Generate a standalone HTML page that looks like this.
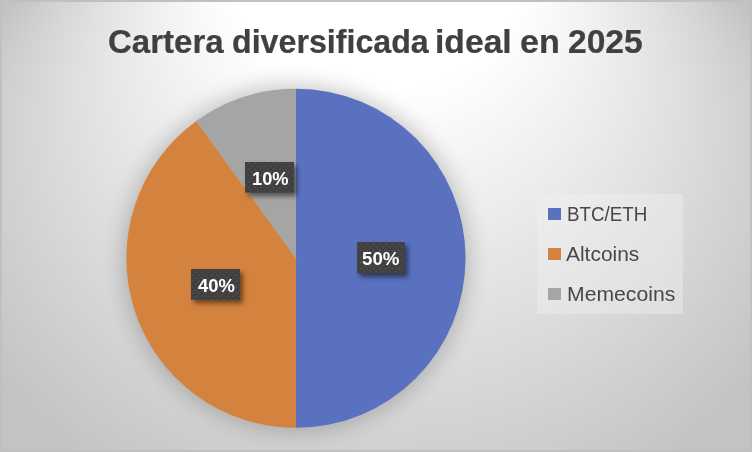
<!DOCTYPE html>
<html>
<head>
<meta charset="utf-8">
<title>Cartera diversificada ideal en 2025</title>
<style>
  html, body { margin: 0; padding: 0; }
  body {
    width: 752px; height: 452px; overflow: hidden; position: relative;
    font-family: "Liberation Sans", sans-serif;
    background: #c3c3c3;
  }
  svg { position: absolute; left: 0; top: 0; display: block; }
  #frame {
    position: absolute; left: 0; top: 0; width: 752px; height: 452px; box-sizing: border-box;
    border: 2px solid #c0c0c0;
  }
  .w { position: absolute; white-space: pre; color: #404040; font-weight: bold; font-size: 32.5px; line-height: 1; transform-origin: 0 0; -webkit-text-stroke: 0.22px #404040; }
  #legend { position: absolute; left: 537px; top: 194px; width: 145.8px; height: 119.7px; background: rgba(242,242,242,0.39); }
  .mk { position: absolute; left: 548px; width: 13px; height: 12.2px; }
  .lt { position: absolute; white-space: pre; color: #484848; font-size: 19.5px; line-height: 1; transform-origin: 0 0; }
  .lb { position: absolute; color: #fff; font-weight: bold; font-size: 19px; line-height: 1; white-space: pre; transform-origin: 0 0; }
</style>
</head>
<body>
<svg id="bg" width="752" height="452" viewBox="0 0 752 452">
<rect width="752" height="452" fill="#c3c3c3"/>
<ellipse cx="376.0" cy="199.2" rx="436.8" ry="351.2" fill="#c4c4c4"/>
<ellipse cx="376.0" cy="195.4" rx="431.9" ry="347.3" fill="#c5c5c5"/>
<ellipse cx="376.0" cy="191.6" rx="427.0" ry="343.4" fill="#c6c6c6"/>
<ellipse cx="376.0" cy="187.8" rx="422.1" ry="339.4" fill="#c7c7c7"/>
<ellipse cx="376.0" cy="183.9" rx="417.2" ry="335.5" fill="#c8c8c8"/>
<ellipse cx="376.0" cy="180.1" rx="412.3" ry="331.6" fill="#c9c9c9"/>
<ellipse cx="376.0" cy="176.3" rx="407.4" ry="327.6" fill="#cacaca"/>
<ellipse cx="376.0" cy="172.5" rx="402.5" ry="323.7" fill="#cbcbcb"/>
<ellipse cx="376.0" cy="168.7" rx="397.6" ry="319.8" fill="#cccccc"/>
<ellipse cx="376.0" cy="164.9" rx="392.7" ry="315.8" fill="#cdcdcd"/>
<ellipse cx="376.0" cy="161.1" rx="387.9" ry="311.9" fill="#cecece"/>
<ellipse cx="376.0" cy="157.2" rx="383.0" ry="308.0" fill="#cfcfcf"/>
<ellipse cx="376.0" cy="153.4" rx="378.1" ry="304.0" fill="#d0d0d0"/>
<ellipse cx="376.0" cy="149.6" rx="373.2" ry="300.1" fill="#d1d1d1"/>
<ellipse cx="376.0" cy="145.8" rx="368.3" ry="296.2" fill="#d2d2d2"/>
<ellipse cx="376.0" cy="142.0" rx="363.4" ry="292.2" fill="#d3d3d3"/>
<ellipse cx="376.0" cy="138.2" rx="358.5" ry="288.3" fill="#d4d4d4"/>
<ellipse cx="376.0" cy="134.4" rx="353.6" ry="284.4" fill="#d5d5d5"/>
<ellipse cx="376.0" cy="130.5" rx="348.7" ry="280.5" fill="#d6d6d6"/>
<ellipse cx="376.0" cy="126.7" rx="343.8" ry="276.5" fill="#d7d7d7"/>
<ellipse cx="376.0" cy="122.9" rx="339.0" ry="272.6" fill="#d8d8d8"/>
<ellipse cx="376.0" cy="119.1" rx="334.1" ry="268.7" fill="#d9d9d9"/>
<ellipse cx="376.0" cy="115.3" rx="329.2" ry="264.7" fill="#dadada"/>
<ellipse cx="376.0" cy="111.5" rx="324.3" ry="260.8" fill="#dbdbdb"/>
<ellipse cx="376.0" cy="107.7" rx="319.4" ry="256.9" fill="#dcdcdc"/>
<ellipse cx="376.0" cy="103.8" rx="314.5" ry="252.9" fill="#dddddd"/>
<ellipse cx="376.0" cy="100.0" rx="309.6" ry="249.0" fill="#dedede"/>
<ellipse cx="376.0" cy="96.2" rx="304.7" ry="245.1" fill="#dfdfdf"/>
<ellipse cx="376.0" cy="92.4" rx="299.8" ry="241.1" fill="#e0e0e0"/>
<ellipse cx="376.0" cy="88.6" rx="295.0" ry="237.2" fill="#e1e1e1"/>
<ellipse cx="376.0" cy="84.8" rx="290.1" ry="233.3" fill="#e2e2e2"/>
<ellipse cx="376.0" cy="81.0" rx="285.2" ry="229.3" fill="#e3e3e3"/>
<ellipse cx="376.0" cy="77.1" rx="280.3" ry="225.4" fill="#e4e4e4"/>
<ellipse cx="376.0" cy="73.3" rx="275.4" ry="221.5" fill="#e5e5e5"/>
<ellipse cx="376.0" cy="69.5" rx="270.5" ry="217.5" fill="#e6e6e6"/>
<ellipse cx="376.0" cy="65.7" rx="265.6" ry="213.6" fill="#e7e7e7"/>
<ellipse cx="376.0" cy="61.9" rx="260.7" ry="209.7" fill="#e8e8e8"/>
<ellipse cx="376.0" cy="58.1" rx="255.8" ry="205.7" fill="#e9e9e9"/>
<ellipse cx="376.0" cy="54.3" rx="250.9" ry="201.8" fill="#eaeaea"/>
<ellipse cx="376.0" cy="50.4" rx="246.1" ry="197.9" fill="#ebebeb"/>
<ellipse cx="376.0" cy="46.6" rx="241.2" ry="193.9" fill="#ececec"/>
<ellipse cx="376.0" cy="42.8" rx="236.3" ry="190.0" fill="#ededed"/>
<ellipse cx="376.0" cy="39.0" rx="231.4" ry="186.1" fill="#eeeeee"/>
<ellipse cx="376.0" cy="35.2" rx="226.5" ry="182.1" fill="#efefef"/>
<ellipse cx="376.0" cy="31.4" rx="221.6" ry="178.2" fill="#f0f0f0"/>
<ellipse cx="376.0" cy="27.6" rx="216.7" ry="174.3" fill="#f1f1f1"/>
<ellipse cx="376.0" cy="23.7" rx="211.8" ry="170.3" fill="#f2f2f2"/>
<ellipse cx="376.0" cy="19.9" rx="206.9" ry="166.4" fill="#f3f3f3"/>
<ellipse cx="376.0" cy="16.1" rx="202.0" ry="162.5" fill="#f4f4f4"/>
<ellipse cx="376.0" cy="12.3" rx="197.2" ry="158.6" fill="#f5f5f5"/>
<ellipse cx="376.0" cy="8.5" rx="192.3" ry="154.6" fill="#f6f6f6"/>
<ellipse cx="376.0" cy="4.7" rx="187.4" ry="150.7" fill="#f7f7f7"/>
<ellipse cx="376.0" cy="0.9" rx="182.5" ry="146.8" fill="#f8f8f8"/>
<ellipse cx="376.0" cy="-3.0" rx="177.6" ry="142.8" fill="#f9f9f9"/>
<ellipse cx="376.0" cy="-6.8" rx="172.7" ry="138.9" fill="#fafafa"/>
<ellipse cx="376.0" cy="-10.6" rx="167.8" ry="135.0" fill="#fbfbfb"/>
<ellipse cx="376.0" cy="-14.4" rx="162.9" ry="131.0" fill="#fcfcfc"/>
<ellipse cx="376.0" cy="-18.2" rx="158.0" ry="127.1" fill="#fdfdfd"/>
<ellipse cx="376.0" cy="-22.0" rx="153.1" ry="123.2" fill="#fefefe"/>
<ellipse cx="376.0" cy="-25.8" rx="148.3" ry="119.2" fill="#ffffff"/>
</svg>
<svg id="pie" width="752" height="452" viewBox="0 0 752 452">
  <defs>
    <filter id="sh" x="-20%" y="-20%" width="140%" height="140%"><feGaussianBlur stdDeviation="11"/></filter>
    <filter id="lsh" x="-30%" y="-30%" width="160%" height="160%"><feGaussianBlur stdDeviation="2.6"/></filter>
    <pattern id="dp0" x="247.50" y="162.60" width="6.30" height="6.10" patternUnits="userSpaceOnUse">
<rect x="0.1" y="0.1" width="1.6" height="0.9" fill="#5c5c5c"/><rect x="3.25" y="3.15" width="1.6" height="0.9" fill="#5c5c5c"/></pattern><pattern id="dp1" x="360.00" y="243.80" width="6.30" height="6.10" patternUnits="userSpaceOnUse">
<rect x="0.1" y="0.1" width="1.6" height="0.9" fill="#5c5c5c"/><rect x="3.25" y="3.15" width="1.6" height="0.9" fill="#5c5c5c"/></pattern><pattern id="dp2" x="200.90" y="271.50" width="6.30" height="6.10" patternUnits="userSpaceOnUse">
<rect x="0.1" y="0.1" width="1.6" height="0.9" fill="#5c5c5c"/><rect x="3.25" y="3.15" width="1.6" height="0.9" fill="#5c5c5c"/></pattern>
  </defs>
  <circle cx="296.0" cy="258.25" r="173.0" fill="#000" opacity="0.21" filter="url(#sh)"/>
  <path d="M296.00 258.25 L296.00 88.65 A169.60 169.60 0 0 1 296.00 427.85 Z" fill="#5a71c0"/>
  <path d="M296.00 258.25 L296.00 427.85 A169.60 169.60 0 0 1 196.31 121.04 Z" fill="#d4833f"/>
  <path d="M296.00 258.25 L196.31 121.04 A169.60 169.60 0 0 1 296.00 88.65 Z" fill="#a5a5a5"/>
  <rect x="248.0" y="165.5" width="49.0" height="30.6" fill="#000" opacity="0.50" filter="url(#lsh)"/><rect x="245.0" y="162.0" width="49.0" height="30.6" fill="#404040"/><rect x="245.0" y="162.0" width="49.0" height="30.6" fill="url(#dp0)"/><rect x="360.1" y="245.6" width="47.8" height="31.5" fill="#000" opacity="0.50" filter="url(#lsh)"/><rect x="357.1" y="242.1" width="47.8" height="31.5" fill="#404040"/><rect x="357.1" y="242.1" width="47.8" height="31.5" fill="url(#dp1)"/><rect x="194.0" y="272.5" width="49.0" height="30.8" fill="#000" opacity="0.50" filter="url(#lsh)"/><rect x="191.0" y="269.0" width="49.0" height="30.8" fill="#404040"/><rect x="191.0" y="269.0" width="49.0" height="30.8" fill="url(#dp2)"/>
</svg>

<div class="w" id="w1" style="left:107.6px; top:25.5px; transform:scaleX(1.017);">Cartera</div>
<div class="w" id="w2" style="left:231.6px; top:25.5px; transform:scaleX(0.990);">diversificada</div>
<div class="w" id="w3" style="left:434.5px; top:25.5px; transform:scaleX(1.036);">ideal</div>
<div class="w" id="w4" style="left:519.8px; top:25.5px; transform:scaleX(1.05);">en</div>
<div class="w" id="w5" style="left:568.2px; top:25.5px; transform:scaleX(1.033);">2025</div>

<div id="legend"></div>
<div class="mk" style="top:207.9px; background:#5a71c0;"></div>
<div class="mk" style="top:248px; background:#d4833f;"></div>
<div class="mk" style="top:288px; background:#a5a5a5;"></div>
<div class="lt" id="l1" style="left:566.9px; top:204.8px; transform:scaleX(0.964);">BTC/ETH</div>
<div class="lt" id="l2" style="left:566.4px; top:244.9px; transform:scaleX(1.073);">Altcoins</div>
<div class="lt" id="l3" style="left:566.9px; top:285.0px; transform:scaleX(1.086);">Memecoins</div>

<div class="lb" id="t1" style="left:251.8px; top:168.9px; transform:scaleX(0.96);">10%</div>
<div class="lb" id="t2" style="left:361.8px; top:249.2px; transform:scaleX(0.985);">50%</div>
<div class="lb" id="t3" style="left:197.5px; top:276.0px; transform:scaleX(0.97);">40%</div>

<div id="frame"></div>
</body>
</html>
